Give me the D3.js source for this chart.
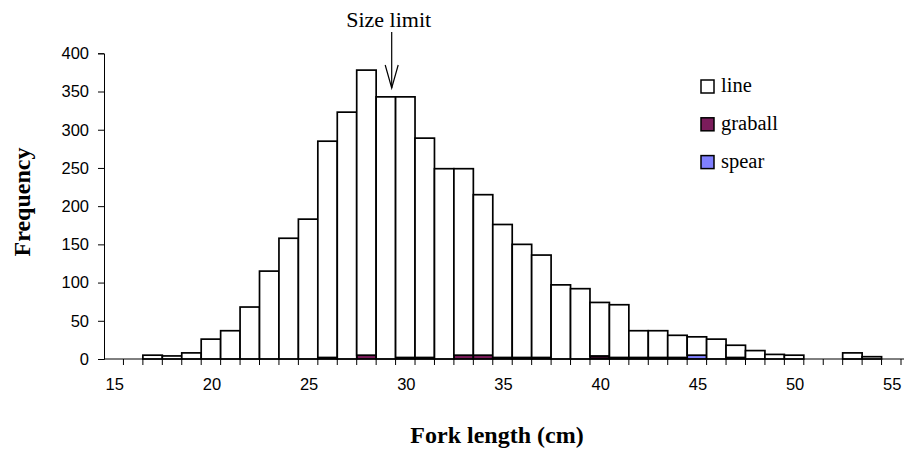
<!DOCTYPE html>
<html>
<head>
<meta charset="utf-8">
<script src="https://cdn.jsdelivr.net/npm/d3@7"></script>
<style>
  body { margin: 0; background: #fff; }
  svg { display: block; }
</style>
</head>
<body>
<div id="chart"></div>
<script>
// fork length classes (cm)
const lengths = d3.range(15, 56).map(String)

// total bar height (all gears)
const totals = [0, 0, 5, 4, 8, 26, 37, 68, 115, 158, 183, 285, 323, 378, 343, 343, 289, 249, 249, 215, 176,
  150, 136, 97, 92, 74, 71, 37, 37, 31, 29, 26, 18, 11, 6, 5, 0, 0, 8, 3, 0]
// small bottom segments
const graball = [0, 0, 0, 0, 0, 0, 0, 0, 0, 0, 0, 2, 0, 5, 0, 2, 2, 0, 5, 5, 2,
  2, 2, 0, 0, 3, 2, 2, 2, 2, 0, 0, 2, 0, 0, 0, 0, 0, 0, 0, 0]
const spear = [0, 0, 0, 0, 0, 0, 0, 0, 0, 0, 0, 0, 0, 0, 0, 0, 0, 0, 0, 0, 0,
  0, 0, 0, 0, 1, 0, 0, 0, 0, 5, 0, 0, 0, 0, 0, 0, 0, 0, 0, 0]
const line = totals.map((t, i) => t - graball[i] - spear[i])

const yTicks = d3.range(0, 401, 50)
const xLabels = ["15", "20", "25", "30", "35", "40", "45", "50", "55"]

const series = [
  { key: "line", color: "#ffffff" },
  { key: "graball", color: "#7b1c5b" },
  { key: "spear", color: "#8080ff" }
]

const rows = lengths.map((c, i) => ({ len: c, line: line[i], graball: graball[i], spear: spear[i] }))

const width = 908, height = 452

const svg = d3.select("#chart").append("svg")
  .attr("width", width)
  .attr("height", height)

const x = d3.scaleBand().domain(lengths).range([104, 901]).padding(0)
const y = d3.scaleLinear().domain([0, 400]).range([359, 53.3])

// stacked bars, spear at the bottom, line on top
const stack = d3.stack().keys(["spear", "graball", "line"])(rows)
const colorOf = k => series.find(s => s.key == k).color

svg.append("g").selectAll("g")
  .data(stack)
  .enter().append("g")
  .attr("fill", d => colorOf(d.key))
  .selectAll("rect")
  .data(d => d.filter(p => p[1] - p[0] > 0))
  .enter().append("rect")
  .attr("x", d => x(d.data.len))
  .attr("y", d => y(d[1]))
  .attr("width", x.bandwidth())
  .attr("height", d => y(d[0]) - y(d[1]))
  .attr("stroke", "#000")
  .attr("stroke-width", 1.7)

// y axis
const yAxis = svg.append("g")
  .attr("transform", "translate(104,0)")
  .call(d3.axisLeft(y).tickValues(yTicks).tickSize(6).tickPadding(9))
yAxis.select(".domain").attr("stroke", "#000")
yAxis.selectAll("text")
  .attr("font-family", "'Liberation Sans', Arial, sans-serif")
  .attr("font-size", "16.5px")
  .attr("fill", "#000")

// x axis: labels every 5 cm, ticks at class boundaries
const xAxis = svg.append("g")
  .attr("transform", "translate(0," + y(0) + ")")
  .call(d3.axisBottom(x).tickValues(xLabels).tickSize(0).tickPadding(19))
xAxis.select(".domain").remove()
xAxis.selectAll("text")
  .attr("font-family", "'Liberation Sans', Arial, sans-serif")
  .attr("font-size", "16.5px")
  .attr("fill", "#000")
  .attr("dx", "1px")

svg.append("line")
  .attr("x1", 104).attr("x2", 904)
  .attr("y1", y(0)).attr("y2", y(0))
  .attr("stroke", "#000")

svg.append("g").selectAll("line")
  .data(lengths.slice(1).concat(["end"]))
  .enter().append("line")
  .attr("x1", d => d == "end" ? x.range()[1] : x(d))
  .attr("x2", d => d == "end" ? x.range()[1] : x(d))
  .attr("y1", y(0))
  .attr("y2", y(0) + 6)
  .attr("stroke", "#000")

// axis titles
svg.append("text")
  .attr("x", 497)
  .attr("y", 443)
  .attr("text-anchor", "middle")
  .attr("font-family", "'Liberation Serif', 'Times New Roman', serif")
  .attr("font-weight", "bold")
  .attr("font-size", "24px")
  .text("Fork length (cm)")

svg.append("text")
  .attr("transform", "translate(30,202) rotate(-90)")
  .attr("text-anchor", "middle")
  .attr("font-family", "'Liberation Serif', 'Times New Roman', serif")
  .attr("font-weight", "bold")
  .attr("font-size", "24px")
  .text("Frequency")

// size limit annotation
const ax = x("29") + x.bandwidth() * 0.8
svg.append("text")
  .attr("x", ax - 3)
  .attr("y", 27)
  .attr("text-anchor", "middle")
  .attr("font-family", "'Liberation Serif', 'Times New Roman', serif")
  .attr("font-size", "22px")
  .text("Size limit")

const arrow = svg.append("g").attr("stroke", "#000").attr("stroke-width", 1.2).attr("fill", "none")
arrow.append("line").attr("x1", ax).attr("x2", ax).attr("y1", 32).attr("y2", 88)
arrow.append("path").attr("d", "M" + (ax - 6.5) + ",65 L" + ax + ",88 L" + (ax + 6.5) + ",65")

// legend
const legend = svg.append("g").attr("transform", "translate(701,80)")
const item = legend.selectAll("g")
  .data(series)
  .enter().append("g")
  .attr("transform", (d, i) => "translate(0," + (i * 37.8) + ")")

item.append("rect")
  .attr("width", 13).attr("height", 13)
  .attr("fill", d => d.color)
  .attr("stroke", "#000")
  .attr("stroke-width", 1.5)

item.append("text")
  .attr("x", 20)
  .attr("y", 12)
  .attr("font-family", "'Liberation Serif', 'Times New Roman', serif")
  .attr("font-size", "20.5px")
  .text(d => d.key)
</script>
</body>
</html>
